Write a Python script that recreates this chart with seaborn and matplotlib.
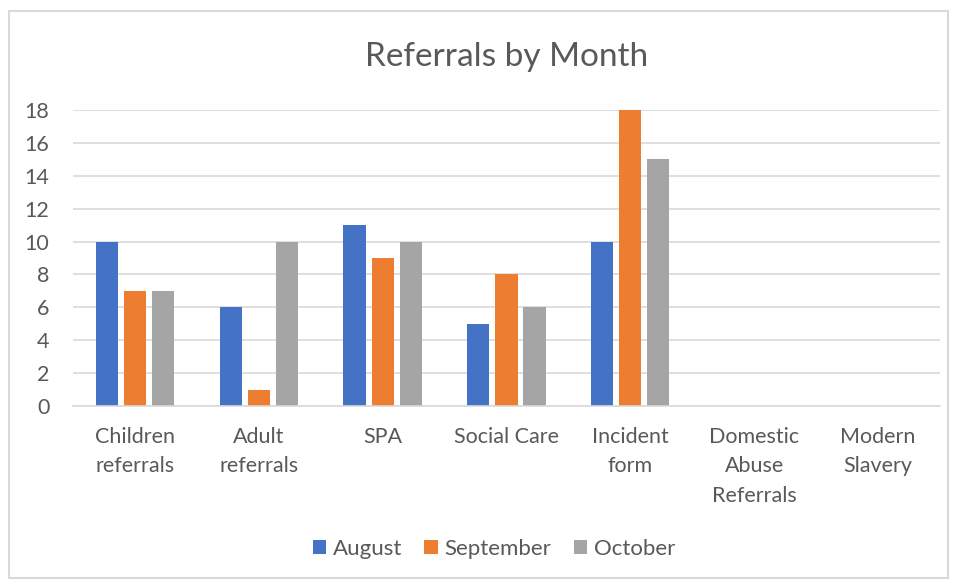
import numpy as np
import pandas as pd
import matplotlib.pyplot as plt
import seaborn as sns
from matplotlib.patches import Rectangle

# Data
categories = ["Children\nreferrals", "Adult\nreferrals", "SPA", "Social Care",
              "Incident\nform", "Domestic\nAbuse\nReferrals", "Modern\nSlavery"]
august = [10, 6, 11, 5, 10, 0, 0]
september = [7, 1, 9, 8, 18, 0, 0]
october = [7, 10, 10, 6, 15, 0, 0]
months = ["August", "September", "October"]
colors = ["#4472C4", "#ED7D31", "#A5A5A5"]

df = pd.DataFrame({"category": categories, "August": august,
                   "September": september, "October": october})
df = df.melt(id_vars="category", var_name="month", value_name="count")

sns.set_style("white")
plt.rcParams["font.family"] = ["Lato", "DejaVu Sans"]
txt = "#595959"

fig = plt.figure(figsize=(9.59, 5.81), dpi=100)
ax = fig.add_axes([0.0761, 0.3012, 0.904, 0.5095])

sns.barplot(data=df, x="category", y="count", hue="month", hue_order=months,
            palette=colors, width=0.68, gap=0.21, saturation=1, ax=ax,
            order=categories, linewidth=0)

ax.set_ylim(0, 18)
ax.set_yticks(range(0, 19, 2))
ax.yaxis.grid(True, color="#D9D9D9", linewidth=1.2)
ax.set_axisbelow(True)
for s in ["top", "right", "left"]:
    ax.spines[s].set_visible(False)
ax.spines["bottom"].set_color("#D9D9D9")
ax.spines["bottom"].set_linewidth(1.2)
ax.tick_params(axis="both", length=0, labelsize=15.5, colors=txt)
ax.tick_params(axis="y", pad=17)
ax.tick_params(axis="x", pad=15)
for lab in ax.get_xticklabels():
    lab.set_linespacing(1.6)
ax.set_xlabel("")
ax.set_ylabel("")
ax.set_title("Referrals by Month", fontsize=24, color=txt, pad=32)

ax.legend_.remove()
handles, labels = ax.get_legend_handles_labels()
fig.legend(handles, labels, loc="center", bbox_to_anchor=(0.515, 0.055), ncol=3,
           frameon=False, fontsize=16, labelcolor=txt, handlelength=0.6,
           handleheight=0.6, handletextpad=0.3, columnspacing=1.0)

fig.patches.append(Rectangle((9 / 959, 3 / 581), 939 / 959, 567 / 581,
                             transform=fig.transFigure, fill=False,
                             edgecolor="#D9D9D9", linewidth=1.5))

plt.savefig("out.png", dpi=100)
